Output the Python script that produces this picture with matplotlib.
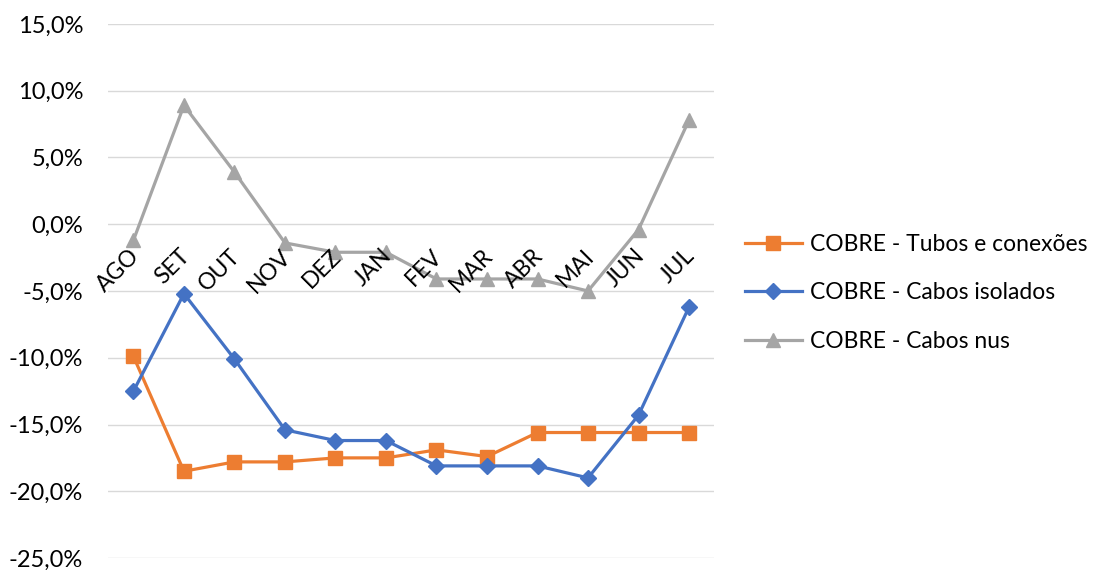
import matplotlib
matplotlib.use('Agg')
import matplotlib.pyplot as plt
from matplotlib.ticker import FuncFormatter
from matplotlib.transforms import offset_copy

plt.rcParams['font.family'] = ['Lato', 'DejaVu Sans']

meses = ['AGO', 'SET', 'OUT', 'NOV', 'DEZ', 'JAN', 'FEV', 'MAR', 'ABR', 'MAI', 'JUN', 'JUL']
tubos = [-9.9, -18.5, -17.8, -17.8, -17.5, -17.5, -16.9, -17.4, -15.6, -15.6, -15.6, -15.6]
isolados = [-12.5, -5.2, -10.1, -15.4, -16.2, -16.2, -18.1, -18.1, -18.1, -19.0, -14.3, -6.2]
nus = [-1.2, 8.9, 3.9, -1.4, -2.1, -2.1, -4.1, -4.1, -4.1, -5.0, -0.4, 7.8]

fig = plt.figure(figsize=(11.04, 5.70), dpi=100)
ax = fig.add_axes([0.098, 0.021, 0.549, 0.937])

x = list(range(len(meses)))
ax.plot(x, tubos, color='#ED7D31', lw=2.3, marker='s', ms=10.5, label='COBRE - Tubos e conexões')
ax.plot(x, isolados, color='#4472C4', lw=2.3, marker='D', ms=8.5, label='COBRE - Cabos isolados')
ax.plot(x, nus, color='#A5A5A5', lw=2.3, marker='^', ms=10.5, label='COBRE - Cabos nus')

ax.set_xlim(-0.5, 11.5)
ax.set_ylim(-25, 15)
ax.set_yticks(range(-25, 16, 5))
ax.yaxis.set_major_formatter(FuncFormatter(lambda v, p: ('%.1f%%' % v).replace('.', ',')))
ax.tick_params(axis='y', length=0, labelsize=17, pad=18)
ax.set_xticks([])
ax.grid(axis='y', color='#D9D9D9', lw=1)
ax.set_axisbelow(True)
for s in ax.spines.values():
    s.set_visible(False)

# rotulos dos meses ficam junto da linha do zero
tr = offset_copy(ax.transData, fig=fig, x=-5, y=-21, units='dots')
for i, m in enumerate(meses):
    ax.text(i, 0, m, transform=tr, rotation=45, ha='right', va='top',
            rotation_mode='anchor', fontsize=16.5)

fig.legend(loc='center left', bbox_to_anchor=(0.656, 0.486), frameon=False,
           fontsize=16.5, labelspacing=1.2, handlelength=2.5, handletextpad=0.34)

fig.savefig('out.png', dpi=100)
